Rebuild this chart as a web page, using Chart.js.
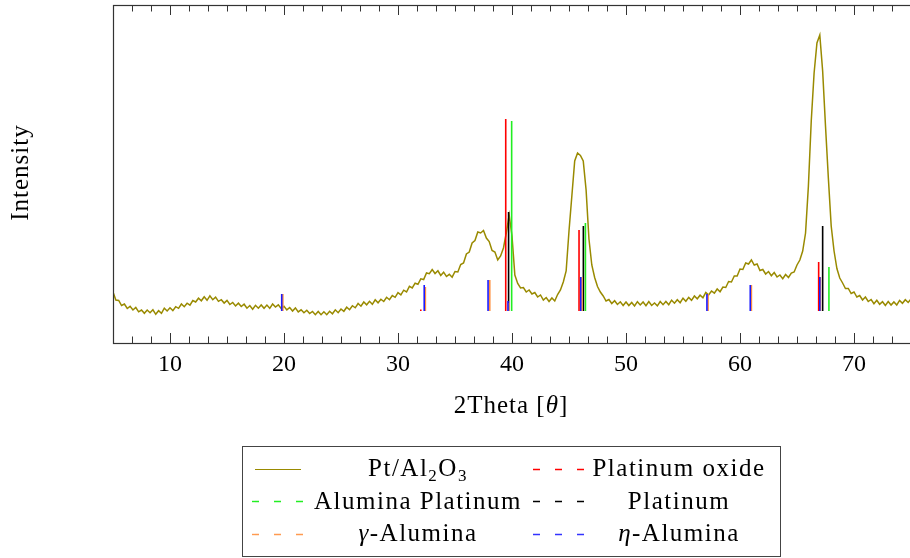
<!DOCTYPE html>
<html>
<head>
<meta charset="utf-8">
<script src="https://cdn.jsdelivr.net/npm/chart.js@4.4.1/dist/chart.umd.min.js"></script>
<style>
	body { margin: 0; width: 910px; height: 558px; overflow: hidden; background: #fff; position: relative;
		font-family: 'Liberation Serif', serif; color: #000; }
	#xrd { position: absolute; left: 0; top: 0; }
	#deco { position: absolute; left: 0; top: 0; }
	.lbl { position: absolute; font-size: 25px; line-height: 25px; white-space: nowrap; text-align: center; letter-spacing: 1px; }
	.lbl sub { font-size: 17px; line-height: 0; vertical-align: -5px; }
	#ytitle { left: -31px; top: 160px; width: 100px; transform: rotate(-90deg); }
	#xtitle { left: 411px; top: 392px; width: 200px; }
	.leg { letter-spacing: 1.5px; }
	.c1 { left: 303px; width: 230px; }
	.c2 { left: 579px; width: 200px; }
	.r1 { top: 455px; }
	.r2 { top: 488px; }
	.r3 { top: 520px; }
</style>
</head>
<body>
<canvas id="xrd" width="914" height="558"></canvas>

<svg id="deco" width="910" height="558">
	<rect x="242.5" y="446.5" width="538" height="110" fill="none" stroke="#444" stroke-width="1"/>
	<line x1="255" y1="469.5" x2="301" y2="469.5" stroke="#998a00" stroke-width="1.2"/>
	<line x1="252" y1="501.5" x2="304" y2="501.5" stroke="#22ee22" stroke-width="1.4" stroke-dasharray="7 15"/>
	<line x1="252" y1="534.5" x2="304" y2="534.5" stroke="#ff9a50" stroke-width="1.4" stroke-dasharray="7 15"/>
	<line x1="533" y1="469.5" x2="585" y2="469.5" stroke="#ff0000" stroke-width="1.4" stroke-dasharray="7 15"/>
	<line x1="533" y1="501.5" x2="585" y2="501.5" stroke="#000" stroke-width="1.4" stroke-dasharray="7 15"/>
	<line x1="533" y1="534.5" x2="585" y2="534.5" stroke="#3333ff" stroke-width="1.4" stroke-dasharray="7 15"/>
</svg>

<div class="lbl" id="ytitle">Intensity</div>
<div class="lbl" id="xtitle">2Theta [<i>θ</i>]</div>

<div class="lbl leg c1 r1">Pt/Al<sub>2</sub>O<sub>3</sub></div>
<div class="lbl leg c2 r1">Platinum oxide</div>
<div class="lbl leg c1 r2">Alumina Platinum</div>
<div class="lbl leg c2 r2">Platinum</div>
<div class="lbl leg c1 r3"><i>γ</i>-Alumina</div>
<div class="lbl leg c2 r3"><i>η</i>-Alumina</div>

<script>
// scan: 2theta from 5 to 75 in 0.25 steps
var scanStart = 5;
var scanStep = 0.25;
var counts = [
	19, 11, 10.5, 5.5,   7, 2.5, 4.7, 1,   3.5, -0.8, 1, -2.3,   1, -1.7, 1.2, -3.3,
	0.3, -2.3, 2.8, 0,   3.2, 0.4, 4.3, 2.7,   7, 4.3, 7.8, 5.8,   10.5, 9, 12.8, 10.2,
	14.3, 10.7, 15.1, 11.3,   13.9, 9.7, 11.3, 7.9,   10.6, 6.5, 8.5, 5,   7.8, 4.5, 6.8, 2.8,
	5.5, 1.8, 5.7, 2.8,   6, 2.7, 5.9, 2.7,   7, 4, 6.1, 2.5,   4.7, 1.1, 3.5, 0,
	3.1, -0.9, 1.2, -1.8,   0.8, -2.5, -0.4, -3.7,   -0.5, -3.7, -0.8, -3.7,   -0.3, -2.8, 1.2, -1.7,
	2, -0.3, 3.8, 1.3,   5.3, 3.2, 7.5, 4.8,   9, 6.2, 9.7, 6.7,   11.2, 8.2, 11.8, 9.5,
	13.7, 11.3, 15.5, 13.7,   18.3, 16.2, 20.8, 19,   24.7, 23, 27.8, 26.7,   32.2, 31.5, 38, 37.3,
	41.5, 37.5, 40.2, 35.5,   38.8, 34.5, 36.7, 33.8,   39.5, 39, 46.5, 48,   57, 59, 68, 70.5,
	79, 78, 80.5, 73,   69.5, 60.5, 59, 51,   55, 63, 78, 96,   75, 36, 27.5, 23,
	23.5, 19, 21, 17,   18.5, 14, 16, 11,   13.5, 9.5, 13, 10,   16.5, 21, 29, 40,
	80, 115, 150, 158,   155.5, 150, 121, 72,   46, 33.5, 24.5, 19,   15, 10, 11.5, 7.5,
	10.3, 6.5, 9.2, 5.5,   9, 5.5, 8.5, 5,   9.3, 6, 9, 5.3,   9.5, 5.5, 8, 5.2,
	9.5, 6.3, 9.5, 6.3,   10.8, 7.8, 11.3, 8.3,   12.8, 9.7, 13.6, 10.7,   15, 12.2, 15.8, 13.3,
	18.5, 16, 20, 17.8,   22, 19.3, 24, 23.5,   29.5, 29, 35, 35,   42, 41.5, 48, 47,
	51, 46, 47, 40.5,   41.5, 37, 39.5, 35.3,   38.5, 34, 36, 32.3,   36.5, 33.5, 38, 39,
	46, 51, 60, 78,   125, 190, 238, 268,   276, 240, 185, 133,   85, 60, 42.5, 33,
	28, 22.5, 22.5, 17.5,   19, 14, 15.5, 11,   14, 9.5, 11.5, 7.3,   10.7, 6.7, 9.3, 5.6,
	9.5, 6, 9.1, 6,   10.6, 7.7, 11.3, 8.5,   12
];

// reference patterns: peak positions and relative heights
var oxidePos = [32.0, 39.45, 45.88, 66.9];
var oxideInt = [1.5, 192, 81, 49];
var aluPtPos = [39.97, 46.44, 67.8];
var aluPtInt = [190, 88, 44];
var ptPos = [39.7, 46.26, 67.25];
var ptInt = [99, 85, 85];
var gammaPos = [19.9, 32.4, 38.05, 39.72, 46.14, 57.2, 61.0, 67.05];
var gammaInt = [17, 24, 31, 8, 34, 17, 26, 34];
var etaPos = [19.8, 32.3, 37.9, 39.65, 46.03, 57.1, 60.9, 67.0];
var etaInt = [17, 26, 31, 10, 34, 17, 26, 34];

var xTicks = [10, 20, 30, 40, 50, 60, 70];

function sticks(pos, inten) {
	var pts = [];
	pos.forEach(function (p, i) {
		pts.push({x: p, y: 0}, {x: p, y: inten[i]}, {x: p, y: null});
	});
	return pts;
}

function stickSet(label, pos, inten, color, order) {
	return {
		label: label,
		data: sticks(pos, inten),
		borderColor: color,
		borderWidth: 1.6,
		pointRadius: 0,
		spanGaps: false,
		order: order
	};
}

var scan = counts.map(function (v, i) {
	return {x: scanStart + i * scanStep, y: v};
});

// box frame with pgfplots-like inner ticks
var frame = {
	id: 'frame',
	afterDraw: function (chart) {
		var ctx = chart.ctx, a = chart.chartArea, xs = chart.scales.x;
		ctx.save();
		ctx.strokeStyle = '#333';
		ctx.lineWidth = 1;
		ctx.beginPath();
		for (var k = 3; k <= 45; k++) {
			var v = k * 10 / 6;
			if (v <= 5.01 || v >= 74.99) continue;
			var px = Math.round(xs.getPixelForValue(v)) + 0.5;
			var len = (k % 6 === 0) ? 10 : 6.5;
			ctx.moveTo(px, a.bottom); ctx.lineTo(px, a.bottom - len);
			ctx.moveTo(px, a.top); ctx.lineTo(px, a.top + len);
		}
		ctx.stroke();
		ctx.lineWidth = 1.2;
		ctx.strokeRect(Math.round(a.left) + 0.5, Math.round(a.top) + 0.5,
			Math.round(a.right - a.left), Math.round(a.bottom - a.top));
		ctx.restore();
	}
};

var context = document.getElementById('xrd').getContext('2d');
var myChart = new Chart(context, {
	type: 'line',
	data: {
		datasets: [
			{
				label: 'Pt/Al2O3',
				data: scan,
				borderColor: '#998a00',
				borderWidth: 1.5,
				pointRadius: 0,
				tension: 0,
				order: 6
			},
			stickSet('Platinum oxide', oxidePos, oxideInt, '#ff0000', 5),
			stickSet('Alumina Platinum', aluPtPos, aluPtInt, '#22ee22', 4),
			stickSet('Platinum', ptPos, ptInt, '#000000', 3),
			stickSet('γ-Alumina', gammaPos, gammaInt, '#ff9040', 2),
			stickSet('η-Alumina', etaPos, etaInt, '#1a1aff', 1)
		]
	},
	options: {
		responsive: false,
		animation: false,
		layout: { padding: { left: 113, right: 3, top: 5, bottom: 0 } },
		plugins: {
			legend: { display: false },
			tooltip: { enabled: false }
		},
		scales: {
			x: {
				type: 'linear',
				min: 5,
				max: 75,
				grid: { display: false, drawTicks: false },
				border: { display: false },
				ticks: {
					padding: 7,
					maxRotation: 0,
					color: '#000',
					font: { family: 'Liberation Serif', size: 24 }
				},
				afterBuildTicks: function (scale) {
					scale.ticks = xTicks.map(function (v) { return {value: v}; });
				},
				afterFit: function (scale) {
					scale.height = 215;
				}
			},
			y: {
				type: 'linear',
				min: -32,
				max: 306,
				display: false
			}
		}
	},
	plugins: [frame]
});
</script>
</body>
</html>
